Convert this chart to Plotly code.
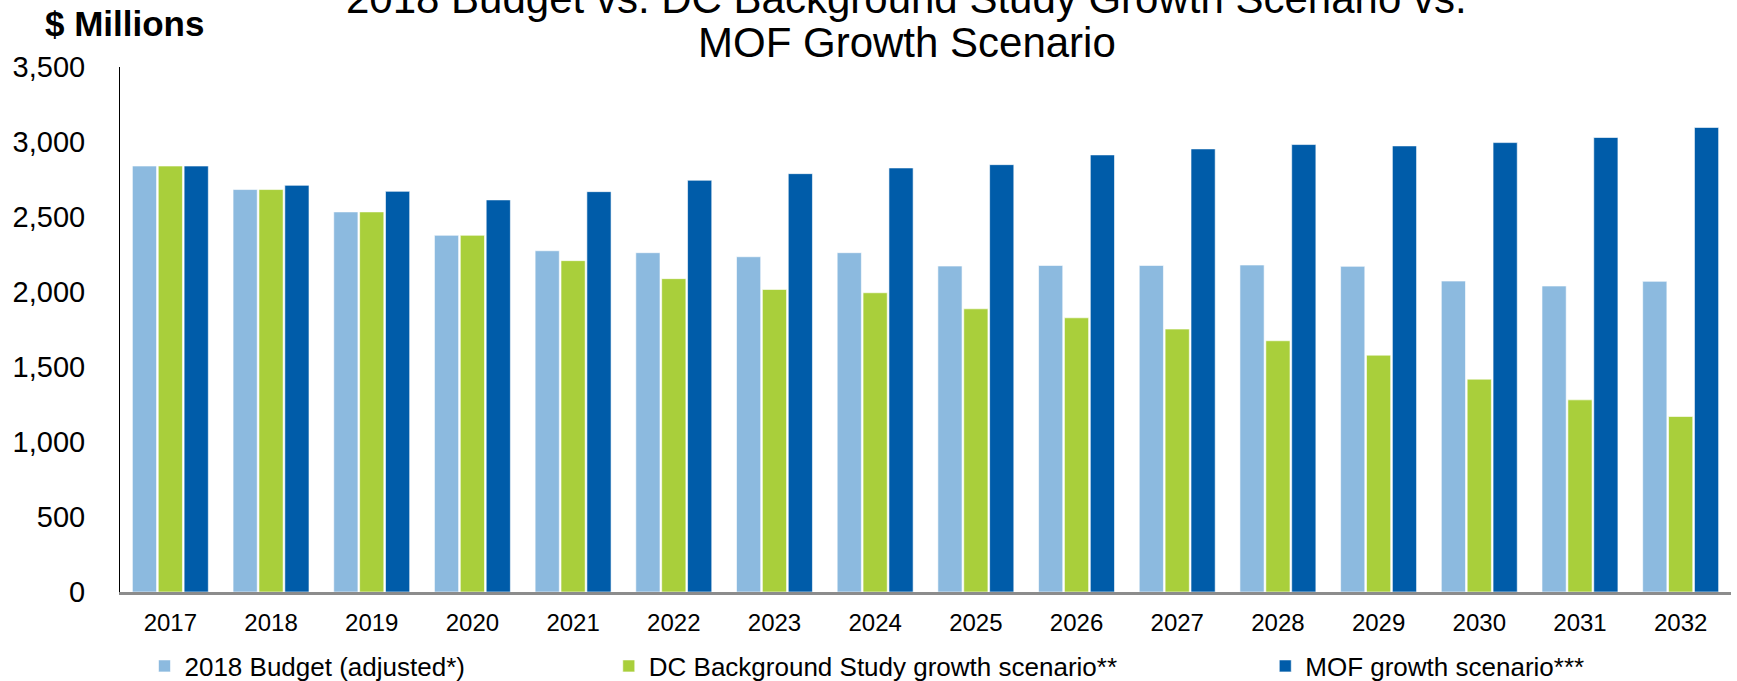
import plotly.graph_objects as go

years = ["2017", "2018", "2019", "2020", "2021", "2022", "2023", "2024",
         "2025", "2026", "2027", "2028", "2029", "2030", "2031", "2032"]
budget_2018 = [2840, 2683, 2534, 2378, 2275, 2262, 2235, 2262,
               2173, 2177, 2177, 2180, 2171, 2073, 2040, 2071]
dc_scenario = [2840, 2683, 2534, 2378, 2209, 2089, 2017, 1995,
               1888, 1828, 1753, 1675, 1579, 1419, 1281, 1170]
mof_scenario = [2840, 2711, 2671, 2614, 2669, 2745, 2789, 2827,
                2849, 2914, 2954, 2983, 2974, 2996, 3030, 3097]
y_ticks = [0, 500, 1000, 1500, 2000, 2500, 3000, 3500]
y_tick_text = ["0", "500", "1,000", "1,500", "2,000", "2,500", "3,000", "3,500"]

names = ["2018 Budget (adjusted*)", "DC Background Study growth scenario**",
         "MOF growth scenario***"]
colors = ["#8CBADF", "#A9CF3B", "#005CA9"]
series = [budget_2018, dc_scenario, mof_scenario]
legend_ids = ["legend", "legend2", "legend3"]

FONT = "Liberation Sans, Arial, sans-serif"

fig = go.Figure()
for name, vals, col, lg in zip(names, series, colors, legend_ids):
    fig.add_trace(go.Bar(
        x=years, y=vals, name=name, legend=lg,
        marker=dict(color=col, line=dict(color="rgba(255,255,255,0.6)", width=1)),
    ))

leg_common = dict(orientation="h", yanchor="middle", y=-0.141, xanchor="left",
                  font=dict(family=FONT, size=26, color="black"),
                  bgcolor="rgba(0,0,0,0)", borderwidth=0)

fig.update_layout(
    width=1737, height=681,
    margin=dict(l=120, r=6, t=67, b=89, autoexpand=False),
    paper_bgcolor="white", plot_bgcolor="white",
    barmode="group", bargap=0.229, bargroupgap=0.065,
    showlegend=True,
    legend=dict(x=0.0152, **leg_common),
    legend2=dict(x=0.3034, **leg_common),
    legend3=dict(x=0.7109, **leg_common),
    font=dict(family=FONT, color="black"),
    xaxis=dict(
        showline=True, linecolor="#8C8C8C", linewidth=2.5,
        ticks="", showgrid=False, zeroline=False, automargin=False,
        tickfont=dict(family=FONT, size=24, color="black"),
        ticklabelstandoff=7,
    ),
    yaxis=dict(
        range=[0, 3500], tickvals=y_ticks, ticktext=y_tick_text,
        showline=True, linecolor="black", linewidth=1,
        ticks="", showgrid=False, zeroline=False, automargin=False,
        tickfont=dict(family=FONT, size=29, color="black"),
        ticklabelstandoff=28,
    ),
    annotations=[
        dict(text="2018 Budget vs. DC Background Study Growth Scenario vs.",
             xref="paper", yref="paper", x=0.4885, y=1.131,
             xanchor="center", yanchor="middle", showarrow=False,
             font=dict(family=FONT, size=42, color="black")),
        dict(text="MOF Growth Scenario",
             xref="paper", yref="paper", x=0.4885, y=1.0475,
             xanchor="center", yanchor="middle", showarrow=False,
             font=dict(family=FONT, size=42, color="black")),
        dict(text="<b>$ Millions</b>",
             xref="paper", yref="paper", x=0.0025, y=1.083,
             xanchor="center", yanchor="middle", showarrow=False,
             font=dict(family=FONT, size=35, color="black")),
    ],
)

fig.write_html(
    "out.html",
    config={"displayModeBar": False},
    post_script="document.body.style.margin='0';document.body.style.overflow='hidden';",
)
